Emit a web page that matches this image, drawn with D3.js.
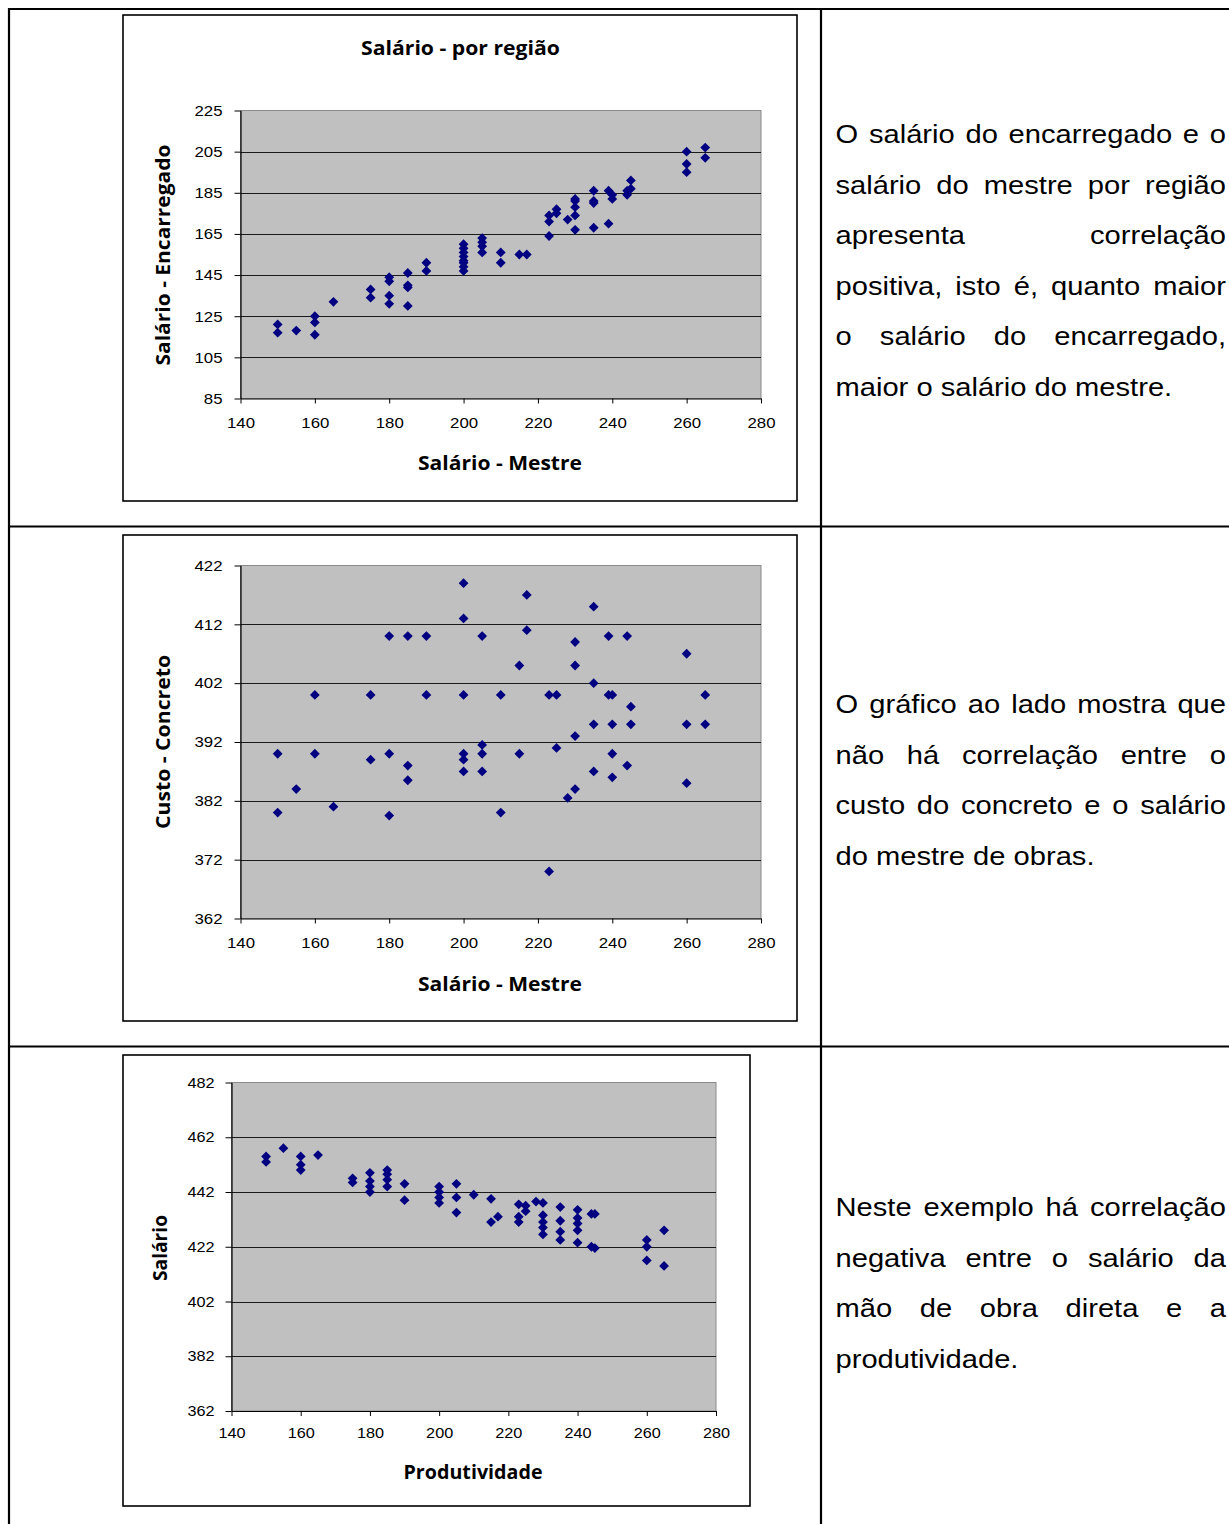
<!DOCTYPE html>
<html>
<head>
<meta charset="utf-8">
<script src="https://cdn.jsdelivr.net/npm/d3@7"></script>
<style>
  body { margin: 0; background: #fff; }
  svg { display: block; }
</style>
</head>
<body>
<svg id="page" width="1229" height="1524"></svg>
<script>
// ---- Data ----------------------------------------------------------------
const xTicks = [140, 160, 180, 200, 220, 240, 260, 280];

// Chart 1: Salário - Mestre vs Salário - Encarregado
const c1Mestre = [150,150,155,160,160,160,165,175,175,180,180,180,180,185,185,185,185,190,190,
  200,200,200,200,200,200,200,200,205,205,205,205,210,210,215,217,223,223,223,225,225,228,
  230,230,230,230,230,235,235,235,235,239,239,240,240,244,244,245,245,260,260,260,265,265];
const c1Encarregado = [121,117,118,125,122,116,132,138,134,144,142,135,131,146,140,139,130,151,147,
  160,158,156,154,152,151,149,147,163,161,159,156,156,151,155,155,174,171,164,177,175,172,
  182,181,178,174,167,186,181,180,168,186,170,184,182,186,184,191,187,205,199,195,207,202];
const c1YTicks = [85, 105, 125, 145, 165, 185, 205, 225];

// Chart 2: Salário - Mestre vs Custo - Concreto
const c2Mestre = [150,150,155,160,160,165,175,175,180,180,180,185,185,185,190,190,
  200,200,200,200,200,200,205,205,205,205,210,210,215,215,217,217,223,223,225,225,228,
  230,230,230,230,235,235,235,235,239,239,240,240,240,240,244,244,245,245,260,260,260,265,265];
const c2Concreto = [390,380,384,400,390,381,400,389,410,390,379.5,410,388,385.5,410,400,
  419,413,400,390,389,387,410,391.5,390,387,400,380,405,390,417,411,400,370,400,391,382.5,
  409,405,393,384,415,402,395,387,410,400,400,395,390,386,410,388,398,395,407,395,385,400,395];
const c2YTicks = [362, 372, 382, 392, 402, 412, 422];

// Chart 3: Produtividade vs Salário
const c3Produtividade = [150,150,155,160,160,160,165,175,175,180,180,180,180,185,185,185,185,190,190,
  200,200,200,200,205,205,205,210,215,215,217,223,223,223,225,225,228,
  230,230,230,230,230,235,235,235,235,240,240,240,240,240,244,244,245,245,260,260,260,265,265];
const c3Salario = [455,453,458,455,452,450,455.5,447,445.5,449,446,444,442,450,448.5,446.5,444,445,439,
  444,442,440,438,445,440,434.5,441,439.5,431,433,437.5,433,431,437,435,438.5,
  438,433.5,431,429,426.5,436.5,431.5,427.5,424.5,435.5,432.5,430.5,428,423.5,434,422,434,421.5,424.5,422,417,428,415];
const c3YTicks = [362, 382, 402, 422, 442, 462, 482];

// Side notes
const note1 = [
  "O salário do encarregado e o",
  "salário do mestre por região",
  "apresenta correlação",
  "positiva, isto é, quanto maior",
  "o salário do encarregado,",
  "maior o salário do mestre."
];
const note2 = [
  "O gráfico ao lado mostra que",
  "não há correlação entre o",
  "custo do concreto e o salário",
  "do mestre de obras."
];
const note3 = [
  "Neste exemplo há correlação",
  "negativa entre o salário da",
  "mão de obra direta e a",
  "produtividade."
];

// ---- Drawing -------------------------------------------------------------
const svg = d3.select("#page");
const ARIAL = "'Liberation Sans', Arial, sans-serif";
const CAL = "'Open Sans', 'Noto Sans', sans-serif";
const SX = 1.12; // horizontal widening of regular text

// widen a text element horizontally by SX
function widen(sel) {
  sel.each(function () {
    const len = this.getComputedTextLength();
    d3.select(this).attr("textLength", len * SX).attr("lengthAdjust", "spacingAndGlyphs");
  });
}

// table rules
const rules = svg.append("g").attr("stroke", "#000").attr("stroke-width", 2.2);
rules.append("line").attr("x1", 8).attr("x2", 1229).attr("y1", 9).attr("y2", 9);
rules.append("line").attr("x1", 9).attr("x2", 9).attr("y1", 8).attr("y2", 1524);
rules.append("line").attr("x1", 821).attr("x2", 821).attr("y1", 8).attr("y2", 1524);
rules.append("line").attr("x1", 8).attr("x2", 1229).attr("y1", 526.5).attr("y2", 526.5);
rules.append("line").attr("x1", 8).attr("x2", 1229).attr("y1", 1046.5).attr("y2", 1046.5);

function boldLabel(g, txt, x, y, size, len, rotate) {
  const t = g.append("text")
    .attr("font-family", CAL).attr("font-weight", "bold")
    .attr("font-size", size).attr("fill", "#000")
    .attr("text-anchor", "middle").attr("dy", "0.35em")
    .attr("textLength", len).attr("lengthAdjust", "spacingAndGlyphs")
    .text(txt);
  if (rotate) t.attr("transform", `translate(${x},${y}) rotate(-90)`);
  else t.attr("x", x).attr("y", y);
}

const diamond = "M0,-4.9L4.9,0L0,4.9L-4.9,0Z";

function scatter(cfg) {
  const g = svg.append("g");
  // chart frame
  g.append("rect").attr("x", cfg.box[0]).attr("y", cfg.box[1])
    .attr("width", cfg.box[2] - cfg.box[0]).attr("height", cfg.box[3] - cfg.box[1])
    .attr("fill", "#fff").attr("stroke", "#000").attr("stroke-width", 1.6);

  const x = d3.scaleLinear().domain([140, 280]).range([cfg.plot[0], cfg.plot[2]]);
  const y = d3.scaleLinear().domain(d3.extent(cfg.yTicks)).range([cfg.plot[3], cfg.plot[1]]);

  // plot area
  g.append("rect").attr("x", cfg.plot[0]).attr("y", cfg.plot[1])
    .attr("width", cfg.plot[2] - cfg.plot[0]).attr("height", cfg.plot[3] - cfg.plot[1])
    .attr("fill", "#c0c0c0").attr("stroke", "#8a8a8a").attr("stroke-width", 1);

  // horizontal gridlines
  g.append("g").selectAll("line")
    .data(cfg.yTicks.slice(1, -1))
    .join("line")
    .attr("x1", cfg.plot[0]).attr("x2", cfg.plot[2])
    .attr("y1", d => Math.round(y(d)) + 0.5).attr("y2", d => Math.round(y(d)) + 0.5)
    .attr("stroke", "#1a1a1a").attr("stroke-width", 1);

  // axes
  const ax = g.append("g").attr("transform", `translate(0,${cfg.plot[3]})`)
    .call(d3.axisBottom(x).tickValues(xTicks).tickSize(5).tickSizeOuter(0).tickPadding(cfg.xPad));
  const ay = g.append("g").attr("transform", `translate(${cfg.plot[0]},0)`)
    .call(d3.axisLeft(y).tickValues(cfg.yTicks).tickSize(6).tickSizeOuter(0).tickPadding(cfg.yPad));
  [ax, ay].forEach(a => {
    a.selectAll("text").attr("font-family", ARIAL).attr("font-size", cfg.tickFont).attr("fill", "#000");
    widen(a.selectAll("text"));
    a.selectAll("line").attr("stroke", "#000");
    a.select(".domain").attr("stroke", "#000").attr("stroke-width", 1.2);
  });

  // points
  const pts = cfg.xs.map((v, i) => [v, cfg.ys[i]]);
  g.append("g").selectAll("path").data(pts).join("path")
    .attr("d", diamond)
    .attr("transform", d => `translate(${x(d[0])},${y(d[1])})`)
    .attr("fill", "#000080");

  if (cfg.title) boldLabel(g, cfg.title[0], cfg.title[1], cfg.title[2], 19, cfg.title[3], false);
  boldLabel(g, cfg.xTitle[0], cfg.xTitle[1], cfg.xTitle[2], 19, cfg.xTitle[3], false);
  boldLabel(g, cfg.yTitle[0], cfg.yTitle[1], cfg.yTitle[2], 19, cfg.yTitle[3], true);
}

scatter({
  box: [123, 15, 797, 501], plot: [240.5, 110.5, 761, 398.5],
  xs: c1Mestre, ys: c1Encarregado, yTicks: c1YTicks, tickFont: 15, yPad: 12, xPad: 14,
  title: ["Salário - por região", 460.5, 48, 199],
  xTitle: ["Salário - Mestre", 500, 463, 164],
  yTitle: ["Salário - Encarregado", 163, 255, 221]
});

scatter({
  box: [123, 535, 797, 1021], plot: [240.5, 565.5, 761, 918.5],
  xs: c2Mestre, ys: c2Concreto, yTicks: c2YTicks, tickFont: 15, yPad: 12, xPad: 14,
  xTitle: ["Salário - Mestre", 500, 984, 164],
  yTitle: ["Custo - Concreto", 163, 742, 174]
});

scatter({
  box: [123, 1055, 750, 1506], plot: [231.5, 1082.5, 716, 1411],
  xs: c3Produtividade, ys: c3Salario, yTicks: c3YTicks, tickFont: 14.5, yPad: 11, xPad: 12,
  xTitle: ["Produtividade", 473, 1472, 139],
  yTitle: ["Salário", 160, 1248, 66]
});

// ---- justified notes -----------------------------------------------------
const X0 = 835.5, X1 = 1226, LH = 50.5, FS = 26;
function note(lines, baseline) {
  const g = svg.append("g").attr("font-family", ARIAL).attr("font-size", FS).attr("fill", "#000");
  lines.forEach((line, li) => {
    const words = line.split(" ");
    const yy = baseline + li * LH;
    const nodes = words.map(w => g.append("text").attr("y", yy).text(w));
    const widths = nodes.map(n => n.node().getComputedTextLength() * SX);
    nodes.forEach((n, i) => n.attr("textLength", widths[i]).attr("lengthAdjust", "spacingAndGlyphs"));
    const sum = d3.sum(widths);
    const last = li === lines.length - 1;
    const gap = (last || words.length < 2) ? FS * 0.278 * SX : (X1 - X0 - sum) / (words.length - 1);
    let cx = X0;
    nodes.forEach((n, i) => { n.attr("x", cx); cx += widths[i] + gap; });
  });
}
note(note1, 143);
note(note2, 713);
note(note3, 1216);
</script>
</body>
</html>
